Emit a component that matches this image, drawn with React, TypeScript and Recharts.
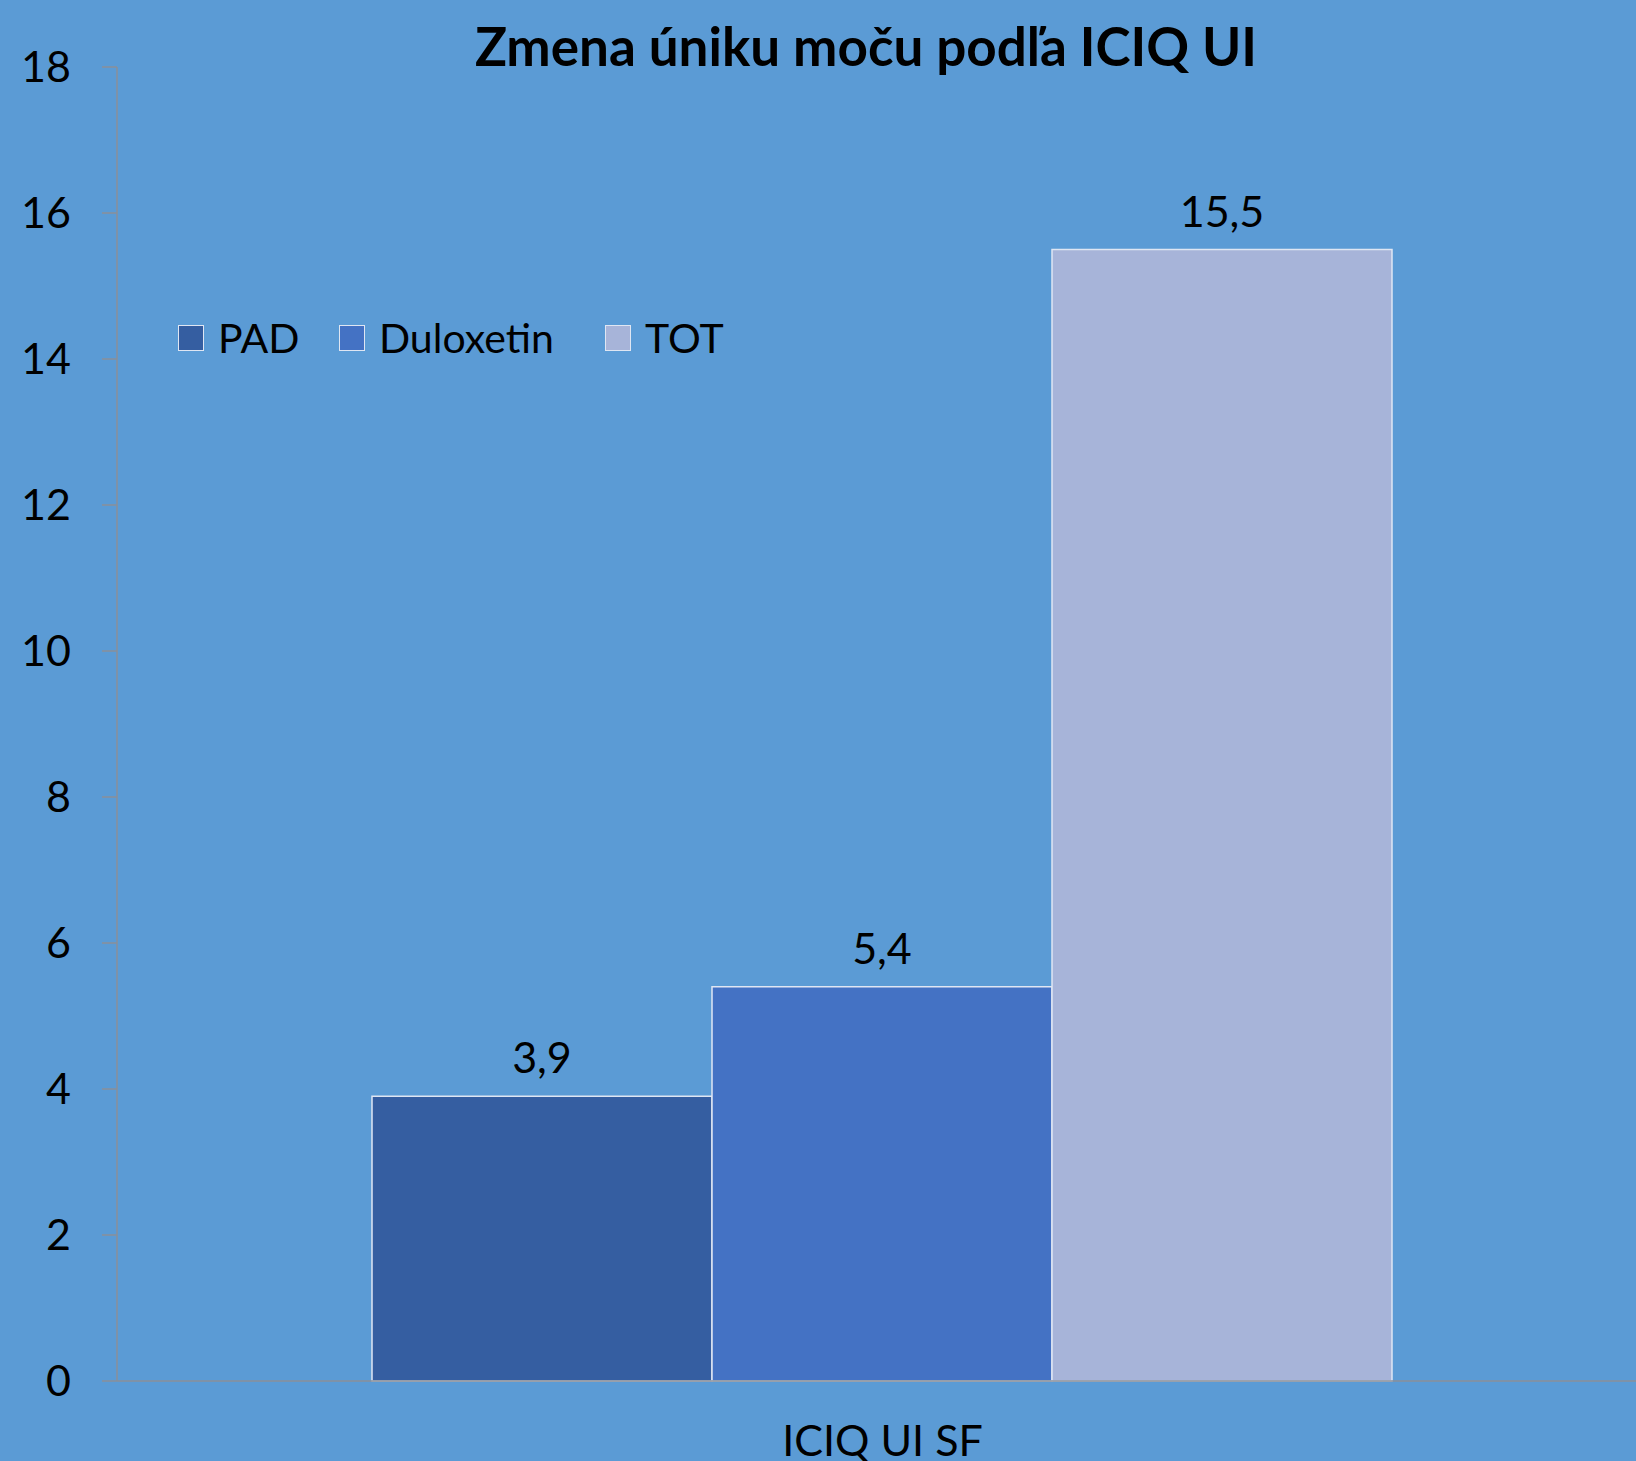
import { BarChart, Bar, XAxis, YAxis, LabelList } from 'recharts';

document.body.style.margin = '0';

const categories = ['ICIQ UI SF'];
const padValues = [3.9];
const duloxetinValues = [5.4];
const totValues = [15.5];
const yTicks = [0, 2, 4, 6, 8, 10, 12, 14, 16, 18];

const seriesNames = ['PAD', 'Duloxetin', 'TOT'];
const seriesColors = ['#355EA1', '#4472C4', '#A7B4D9'];

const data = categories.map((c, i) => ({
  name: c,
  PAD: padValues[i],
  Duloxetin: duloxetinValues[i],
  TOT: totValues[i],
}));

const font = 'Lato, "Open Sans", sans-serif';
const axisGray = '#8a8f99';

// item widths so the legend entries sit where the reference has them
const legendItemWidths = [161, 266, 120];

function ChartLegend() {
  return (
    <div
      style={{
        position: 'absolute',
        top: 317,
        left: 178,
        display: 'flex',
        alignItems: 'center',
        fontFamily: font,
        fontSize: 41,
        color: '#000',
        zIndex: 2,
      }}
    >
      {seriesNames.map((s, i) => (
        <div key={s} style={{ display: 'flex', alignItems: 'center', width: legendItemWidths[i] }}>
          <span
            style={{
              width: 24,
              height: 24,
              background: seriesColors[i],
              border: '1.5px solid #dfe6f3',
              display: 'inline-block',
              marginRight: 14,
            }}
          />
          <span style={{ lineHeight: 1 }}>{s}</span>
        </div>
      ))}
    </div>
  );
}

export default function App() {
  return (
    <div style={{ position: 'relative', width: 1636, height: 1461, overflow: 'hidden', background: '#5B9BD5' }}>
      <div
        style={{
          position: 'absolute',
          top: 19,
          left: 0,
          width: 1732,
          textAlign: 'center',
          fontFamily: font,
          fontWeight: 700,
          fontSize: 53,
          lineHeight: 1,
          color: '#000',
          zIndex: 2,
        }}
      >
        Zmena úniku moču podľa ICIQ UI
      </div>
      <ChartLegend />
      <BarChart
        width={1648}
        height={1461}
        data={data}
        margin={{ top: 67, right: 0, bottom: 0, left: 0 }}
        barCategoryGap={255}
        barGap={0}
      >
        <XAxis
          dataKey="name"
          height={80}
          axisLine={{ stroke: axisGray, strokeWidth: 1.5 }}
          tickLine={false}
          tickMargin={38}
          tick={{ fill: '#000', fontSize: 43, fontFamily: font }}
        />
        <YAxis
          width={117}
          domain={[0, 18]}
          ticks={yTicks}
          interval={0}
          axisLine={{ stroke: axisGray, strokeWidth: 1.5 }}
          tickLine={{ stroke: axisGray, strokeWidth: 1.5 }}
          tickSize={15}
          tickMargin={31}
          tick={{ fill: '#000', fontSize: 43, fontFamily: font }}
        />
        {seriesNames.map((s, i) => (
          <Bar
            key={s}
            dataKey={s}
            name={s}
            fill={seriesColors[i]}
            stroke="#dfe6f3"
            strokeWidth={1.5}
            isAnimationActive={false}
          >
            <LabelList
              dataKey={s}
              position="top"
              offset={23}
              formatter={(v: unknown) => String(v).replace('.', ',')}
              style={{ fill: '#000', fontSize: 43, fontFamily: font }}
            />
          </Bar>
        ))}
      </BarChart>
    </div>
  );
}
